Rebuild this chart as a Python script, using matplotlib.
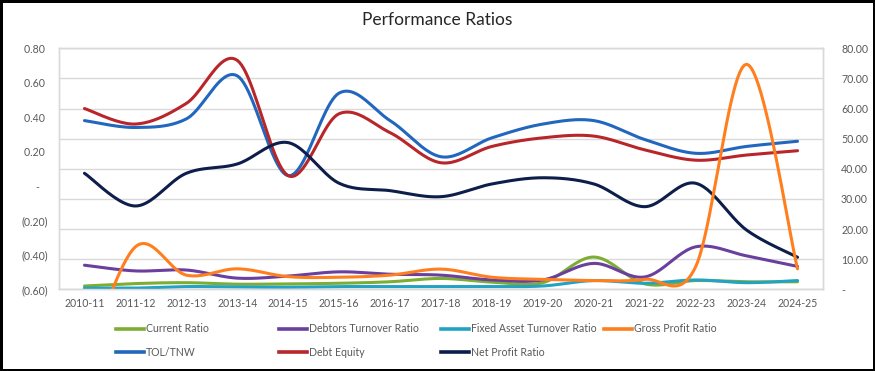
import numpy as np
import matplotlib
matplotlib.use("Agg")
import matplotlib.pyplot as plt
from matplotlib.lines import Line2D
from matplotlib.patches import Rectangle
from matplotlib.ticker import FixedLocator, FuncFormatter

plt.rcParams["font.family"] = ["Lato", "DejaVu Sans"]

years = ["2010-11", "2011-12", "2012-13", "2013-14", "2014-15", "2015-16", "2016-17",
         "2017-18", "2018-19", "2019-20", "2020-21", "2021-22", "2022-23", "2023-24", "2024-25"]

# right axis series
current_ratio = [1.1, 1.9, 2.2, 1.7, 1.8, 2.0, 2.5, 3.6, 2.4, 2.2, 10.7, 1.8, 2.9, 2.5, 2.5]
debtors_turnover = [8.0, 6.1, 6.4, 3.7, 4.4, 5.8, 5.0, 4.7, 3.1, 3.1, 8.6, 4.1, 14.1, 11.1, 7.6]
fixed_asset_turnover = [0.4, 0.4, 0.9, 0.8, 0.7, 0.9, 0.9, 0.9, 0.9, 1.1, 2.9, 2.0, 3.1, 2.2, 2.9]
gross_profit = [-25.0, 14.1, 4.7, 6.8, 4.2, 4.0, 4.7, 6.7, 4.0, 3.3, 2.9, 3.3, 7.5, 74.7, 6.8]

# left axis series
tol_tnw = [0.38, 0.34, 0.39, 0.64, 0.06, 0.54, 0.38, 0.17, 0.28, 0.36, 0.38, 0.27, 0.19, 0.23, 0.26]
debt_equity = [0.45, 0.36, 0.48, 0.73, 0.06, 0.42, 0.31, 0.135, 0.23, 0.28, 0.29, 0.21, 0.15, 0.18, 0.205]
net_profit = [0.074, -0.116, 0.074, 0.128, 0.252, 0.016, -0.027, -0.062, 0.012, 0.048, 0.012,
              -0.12, 0.016, -0.256, -0.414]

right_series = [("Current Ratio", current_ratio, "#7DAE33"),
                ("Debtors Turnover Ratio", debtors_turnover, "#6A3F9E"),
                ("Fixed Asset Turnover Ratio", fixed_asset_turnover, "#22A2C4"),
                ("Gross Profit Ratio", gross_profit, "#FF7F1E")]
left_series = [("TOL/TNW", tol_tnw, "#2167BE"),
               ("Debt Equity", debt_equity, "#B8262A"),
               ("Net Profit Ratio", net_profit, "#0E1E4B")]


def smooth(vals, steps=24):
    # excel-like smoothed line: bezier segments with catmull-rom control points
    y = np.asarray(vals, float)
    x = np.arange(len(y), dtype=float)
    xs, ys = [], []
    n = len(y)
    for i in range(n - 1):
        i0, i3 = max(i - 1, 0), min(i + 2, n - 1)
        p0, p1, p2, p3 = [np.array([x[k], y[k]]) for k in (i0, i, i + 1, i3)]
        c1 = p1 + (p2 - p0) / 6.0
        c2 = p2 - (p3 - p1) / 6.0
        t = np.linspace(0, 1, steps)[:, None]
        b = (1 - t) ** 3 * p1 + 3 * (1 - t) ** 2 * t * c1 + 3 * (1 - t) * t ** 2 * c2 + t ** 3 * p2
        xs.extend(b[:, 0])
        ys.extend(b[:, 1])
    return np.array(xs), np.array(ys)


W, H = 875, 371
fig = plt.figure(figsize=(W / 100, H / 100), dpi=100)
ax = fig.add_axes([59 / W, 1 - 289.3 / H, (823 - 59) / W, (289.3 - 48.3) / H])
ax2 = ax.twinx()

grey = "#595959"
grid_c = "#D9D9D9"

# left axis: major ticks only for the grid, minor ticks carry the labels
ax.set_ylim(-0.6, 0.8)
ax.yaxis.set_major_locator(FixedLocator(np.linspace(-0.6, 0.8, 9)))
ax.yaxis.set_minor_locator(FixedLocator(np.arange(-0.6, 0.81, 0.2)))
ax.yaxis.remove_overlapping_locs = False
ax.yaxis.set_major_formatter(FuncFormatter(lambda v, p: ""))


def acct(v, p):
    if abs(v) < 1e-9:
        return "-   "
    if v < 0:
        return "(%.2f)" % abs(v)
    return "%.2f " % v


ax.yaxis.set_minor_formatter(FuncFormatter(acct))
ax.grid(axis="y", which="major", color=grid_c, lw=1.0)
ax.tick_params(axis="y", which="both", length=0, pad=8, labelsize=7.6, labelcolor=grey)
ax.set_axisbelow(True)

ax.set_xlim(-0.5, len(years) - 0.5)
ax.set_xticks(range(len(years)))
ax.set_xticklabels(years)
ax.tick_params(axis="x", length=0, pad=6, labelsize=7.6, labelcolor=grey)

ax2.set_ylim(0, 80)
ax2.set_yticks(np.arange(0, 81, 10))
ax2.yaxis.set_major_formatter(FuncFormatter(lambda v, p: "-" if v == 0 else "%.2f" % v))
ax2.tick_params(axis="y", length=0, pad=13, labelsize=7.6, labelcolor=grey)

for a in (ax, ax2):
    for s in a.spines.values():
        s.set_color(grid_c)
        s.set_linewidth(1.0)

for name, vals, col in left_series:
    xs, ys = smooth(vals)
    ax.plot(xs, ys, color=col, lw=2.2, solid_capstyle="round", label=name)

for name, vals, col in right_series:
    xs, ys = smooth(vals)
    ax2.plot(xs, ys, color=col, lw=2.2, solid_capstyle="round", label=name)

fig.text(0.5, 1 - 20 / H, "Performance Ratios", ha="center", va="center",
         fontsize=12.5, color="#262626")

# legend laid out like excel: 4 equal columns, 2 rows
order = [right_series[0], right_series[1], right_series[2], right_series[3],
         left_series[0], left_series[1], left_series[2]]
col_x = [116, 279, 441, 604]
row_y = [328.7, 352.4]
for k, (name, vals, col) in enumerate(order):
    cx = col_x[k % 4]
    ry = 1 - row_y[k // 4] / H
    fig.add_artist(Line2D([cx / W, (cx + 28) / W], [ry, ry], color=col, lw=2.6,
                          transform=fig.transFigure))
    fig.text((cx + 30) / W, ry, name, ha="left", va="center", fontsize=7.6, color=grey)

fig.add_artist(Rectangle((0, 0), 1, 1, transform=fig.transFigure, fill=False,
                         edgecolor="black", lw=3.6))

fig.savefig("out.png", dpi=100)
